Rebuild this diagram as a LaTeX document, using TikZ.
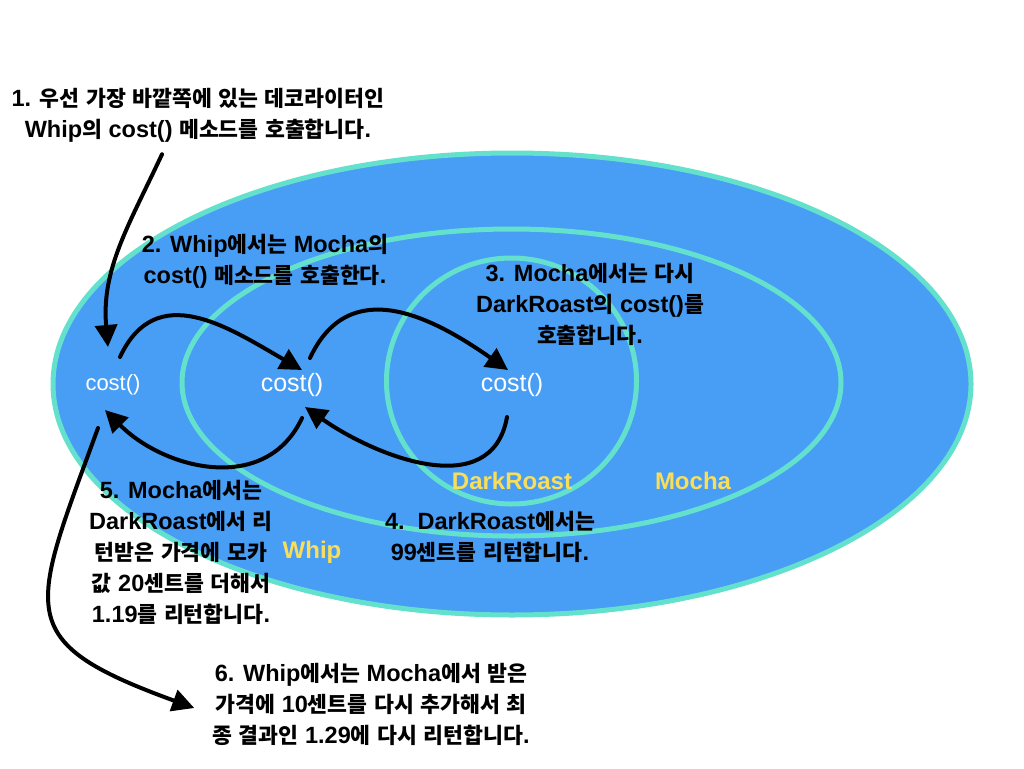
\documentclass[tikz,border=0pt]{standalone}
\usepackage{fontspec}
\setmainfont{Liberation Sans}
\newfontfamily\kr{Noto Sans CJK KR Bold}[Scale=0.92]
\usetikzlibrary{arrows.meta,shapes.geometric,calc}

% hangul runs switch to the korean font by themselves
\XeTeXinterchartokenstate=1
\newXeTeXintercharclass\hanclass
\newcount\hcnt
\hcnt="AC00
\loop \XeTeXcharclass\hcnt=\hanclass \advance\hcnt by 1 \ifnum\hcnt<"D7A4 \repeat
\XeTeXinterchartoks 0 \hanclass = {\begingroup\kr}
\XeTeXinterchartoks 4095 \hanclass = {\begingroup\kr}
\XeTeXinterchartoks \hanclass 0 = {\endgroup}
\XeTeXinterchartoks \hanclass 4095 = {\endgroup}

\definecolor{layerblue}{RGB}{72,157,245}
\definecolor{layerline}{RGB}{100,225,205}
\definecolor{tagyellow}{RGB}{250,222,90}

\begin{document}
\begin{tikzpicture}[x=1pt,y=-1pt]
\tikzstyle{layer} = [ellipse, draw=layerline, line width=5pt, fill=layerblue, inner sep=0pt]
\tikzstyle{note} = [align=center, inner sep=0pt,
font=\fontsize{23.5}{31}\selectfont\bfseries]
\tikzstyle{method} = [text=white, inner sep=0pt, font=\fontsize{25}{28}\selectfont]
\tikzstyle{tag} = [text=tagyellow, inner sep=0pt, font=\fontsize{24}{28}\selectfont\bfseries]
\tikzstyle{line} = [draw, line width=4pt, line cap=round,
-{Triangle[length=22pt,width=22pt]}];

\useasboundingbox[fill=white] (0,0) rectangle (1024,768);

% decorators, outside in
\node [layer, minimum width=918, minimum height=462] (whip) at (512,384) {};
\node [layer, minimum width=659, minimum height=307] (mocha) at (511.5,382.5) {};
\node [layer, minimum width=250, minimum height=246] (darkroast) at (511.5,381) {};

% cost() of each one
\node [method, font=\fontsize{22}{26}\selectfont] (costwhip) at (113,385) {cost()};
\node [method] (costmocha) at (292,385) {cost()};
\node [method] (costdark) at (512,385) {cost()};

\node [tag] (darklabel) at (512,481) {DarkRoast};
\node [tag] (mochalabel) at (693,481) {Mocha};
\node [tag] (whiplabel) at (312,552) {Whip};

% steps
\node [note] (step1) at (198,115) {1. 우선 가장 바깥쪽에 있는 데코라이터인\\
Whip의 cost() 메소드를 호출합니다.};
\node [note] (step2) at (265,261) {2. Whip에서는 Mocha의\\
cost() 메소드를 호출한다.};
\node [note] (step3) at (590,304) {3. Mocha에서는 다시\\
DarkRoast의 cost()를\\호출합니다.};
\node [note] (step4) at (490,537) {4.\ \ DarkRoast에서는\\
99센트를 리턴합니다.};
\node [note] (step5) at (181,552) {5. Mocha에서는\\DarkRoast에서 리\\
턴받은 가격에 모카\\값 20센트를 더해서\\1.19를 리턴합니다.};
\node [note] (step6) at (371,704) {6. Whip에서는 Mocha에서 받은\\
가격에 10센트를 다시 추가해서 최\\종 결과인 1.29에 다시 리턴합니다.};

% calls going in
\path [line] ($(step1.south)+(-36,12)$) to [out=-115,in=95] ($(costwhip)+(-5,-38)$);
\path [line] ($(costwhip)+(7,-28)$) to [out=65,in=150,looseness=1.2] ($(costmocha)+(10,-15)$);
\path [line] ($(costmocha)+(18,-27)$) to [out=65,in=145,looseness=1.2] ($(costdark)+(-4,-15)$);

% results coming back
\path [line] ($(costdark)+(-5,32)$) to [out=-100,in=-35,looseness=1.1] ($(costmocha)+(13,22)$);
\path [line] ($(costmocha)+(10,33)$) to [out=-115,in=-45,looseness=1.1] ($(costwhip)+(-8,25)$);
\path [line] ($(costwhip)+(-15,43)$) to [out=-110,in=160,looseness=1.7] ($(step6.west)+(-18,4)$);

\end{tikzpicture}
\end{document}
